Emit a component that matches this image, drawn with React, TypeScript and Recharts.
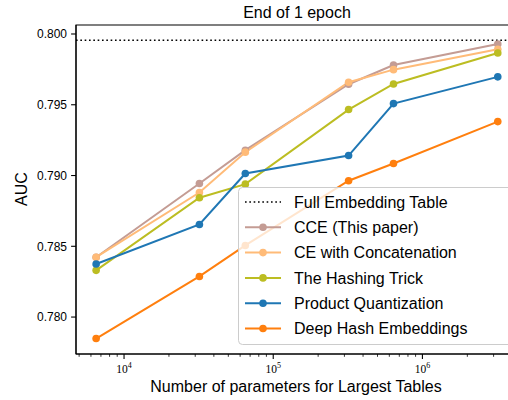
import React from 'react';
import { LineChart, Line, XAxis, YAxis, ReferenceLine, ReferenceArea, Legend } from 'recharts';

// ---------- data ----------
const paramCounts = [6500, 32000, 65000, 320000, 640000, 3200000];
const cceValues = [0.78423, 0.78944, 0.79179, 0.79645, 0.79781, 0.79929];
const ceConcatValues = [0.78423, 0.7888, 0.79165, 0.79659, 0.79748, 0.79892];
const hashingValues = [0.7833, 0.78843, 0.78939, 0.79466, 0.79647, 0.79866];
const pqValues = [0.78375, 0.78654, 0.79014, 0.79141, 0.79508, 0.79697];
const dheValues = [0.77848, 0.78287, 0.78506, 0.78963, 0.79085, 0.79381];
const fullEmbeddingValue = 0.79956;

const yTicks = [0.78, 0.785, 0.79, 0.795, 0.8];
const xTicks = [
  5000, 6000, 7000, 8000, 9000,
  10000, 20000, 30000, 40000, 50000, 60000, 70000, 80000, 90000,
  100000, 200000, 300000, 400000, 500000, 600000, 700000, 800000, 900000,
  1000000, 2000000, 3000000, 4000000,
];

const titleText = 'End of 1 epoch';
const xLabelText = 'Number of parameters for Largest Tables';
const yLabelText = 'AUC';
const fullEmbeddingName = 'Full Embedding Table';

const series = [
  { key: 'cce', name: 'CCE (This paper)', color: '#c49c94', values: cceValues },
  { key: 'ce', name: 'CE with Concatenation', color: '#ffbb78', values: ceConcatValues },
  { key: 'hash', name: 'The Hashing Trick', color: '#bcbd22', values: hashingValues },
  { key: 'pq', name: 'Product Quantization', color: '#1f77b4', values: pqValues },
  { key: 'dhe', name: 'Deep Hash Embeddings', color: '#ff7f0e', values: dheValues },
];

const data = paramCounts.map((p, i) => {
  const row: Record<string, number> = { params: p };
  series.forEach((s) => {
    row[s.key] = s.values[i];
  });
  return row;
});

// ---------- styles ----------
const SANS = '"Liberation Sans", Arial, Helvetica, sans-serif';
const SERIF = '"Liberation Serif", "DejaVu Serif", serif';
const X_DOMAIN: [number, number] = [4764, 4305000];
const Y_DOMAIN: [number, number] = [0.77739, 0.800635];

const XTick = (props: any) => {
  const { x, y, payload } = props;
  const v = payload.value as number;
  const e = Math.log10(v);
  const major = Math.abs(e - Math.round(e)) < 1e-9;
  return (
    <g>
      <line x1={x} x2={x} y1={y} y2={y + (major ? 4.9 : 2.8)} stroke="#000" strokeWidth={major ? 1.1 : 0.8} />
      {major && (
        <text x={x} y={y + 18.5} textAnchor="middle" fontFamily={SERIF} fontSize={11.5} fill="#000">
          10
          <tspan dy={-5} fontSize={8}>
            {Math.round(e)}
          </tspan>
        </text>
      )}
    </g>
  );
};

const YTick = (props: any) => {
  const { x, y, payload } = props;
  return (
    <g>
      <line x1={x - 4.9} x2={x} y1={y} y2={y} stroke="#000" strokeWidth={1.1} />
      <text x={x - 9} y={y + 4.3} textAnchor="end" fontFamily={SANS} fontSize={12} fill="#000">
        {(payload.value as number).toFixed(3)}
      </text>
    </g>
  );
};

const LegendBox = () => {
  const rowGap = 25.3;
  const firstRow = 15;
  return (
    <svg width={276} height={160} style={{ display: 'block', overflow: 'visible' }}>
      <rect x={0.5} y={0.5} width={274} height={157} rx={4} ry={4} fill="#fff" fillOpacity={0.8} stroke="#cccccc" strokeWidth={1} />
      <g>
        <line x1={7} x2={43} y1={firstRow} y2={firstRow} stroke="#000" strokeWidth={1.63} strokeDasharray="1.63 2.7" />
        <text x={56} y={firstRow + 5.6} fontFamily={SANS} fontSize={16} fill="#000">
          {fullEmbeddingName}
        </text>
      </g>
      {series.map((s, i) => {
        const cy = firstRow + (i + 1) * rowGap;
        return (
          <g key={s.key}>
            <line x1={7} x2={43} y1={cy} y2={cy} stroke={s.color} strokeWidth={2} />
            <circle cx={25} cy={cy} r={3.8} fill={s.color} />
            <text x={56} y={cy + 5.6} fontFamily={SANS} fontSize={16} fill="#000">
              {s.name}
            </text>
          </g>
        );
      })}
    </svg>
  );
};

export default function App() {
  return (
    <div style={{ position: 'absolute', left: 0, top: 0, width: 508, height: 400, overflow: 'hidden', background: '#fff' }}>
      <LineChart width={530} height={400} data={data} margin={{ top: 25, right: 13, bottom: 16, left: 0 }}>
        <XAxis
          dataKey="params"
          type="number"
          scale="log"
          domain={X_DOMAIN}
          allowDataOverflow
          ticks={xTicks}
          interval={0}
          tickSize={0}
          tickMargin={0}
          tick={<XTick />}
          axisLine={{ stroke: '#000', strokeWidth: 1.1 }}
          tickLine={false}
          height={30}
        />
        <YAxis
          type="number"
          domain={Y_DOMAIN}
          allowDataOverflow
          ticks={yTicks}
          interval={0}
          tickSize={0}
          tickMargin={0}
          tick={<YTick />}
          axisLine={{ stroke: '#000', strokeWidth: 1.1 }}
          tickLine={false}
          width={76}
        />
        <ReferenceArea
          x1={X_DOMAIN[0]}
          x2={X_DOMAIN[1]}
          y1={Y_DOMAIN[0]}
          y2={Y_DOMAIN[1]}
          fill="none"
          fillOpacity={0}
          stroke="#000"
          strokeWidth={1.1}
        />
        <ReferenceLine y={fullEmbeddingValue} stroke="#000" strokeWidth={1.63} strokeDasharray="1.63 2.7" />
        {series.map((s) => (
          <Line
            key={s.key}
            dataKey={s.key}
            name={s.name}
            stroke={s.color}
            strokeWidth={2}
            dot={{ r: 3.8, fill: s.color, stroke: 'none' }}
            activeDot={false}
            isAnimationActive={false}
          />
        ))}
        <Legend
          layout="vertical"
          align="center"
          verticalAlign="middle"
          content={<LegendBox />}
          wrapperStyle={{ position: 'absolute', left: 238, top: 187, width: 276, height: 160, margin: 0, padding: 0 }}
        />
      </LineChart>
      <svg width={508} height={400} style={{ position: 'absolute', left: 0, top: 0, pointerEvents: 'none' }}>
        <text x={297} y={18} textAnchor="middle" fontFamily={SANS} fontSize={16} fill="#000">
          {titleText}
        </text>
        <text x={296} y={391.5} textAnchor="middle" fontFamily={SANS} fontSize={16} fill="#000">
          {xLabelText}
        </text>
        <text x={27} y={189} textAnchor="middle" fontFamily={SANS} fontSize={16} fill="#000" transform="rotate(-90 27 189)">
          {yLabelText}
        </text>
      </svg>
    </div>
  );
}
